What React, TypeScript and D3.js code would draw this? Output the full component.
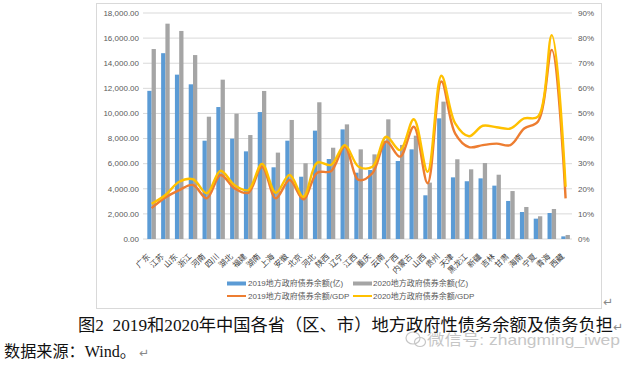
import React from 'react';
import * as d3 from 'd3';

const provinces = ['广东', '江苏', '山东', '浙江', '河南', '四川', '湖北', '福建', '湖南', '上海', '安徽', '北京', '河北', '陕西', '辽宁', '江西', '重庆', '云南', '广西', '内蒙古', '山西', '贵州', '天津', '黑龙江', '新疆', '吉林', '甘肃', '海南', '宁夏', '青海', '西藏'];

// 地方政府债券余额（亿元）
const debt2019 = [11800, 14800, 13090, 12320, 7830, 10510, 7990, 6980, 10110, 5710, 7830, 4960, 8630, 6370, 8730, 5280, 5500, 7830, 6210, 7140, 3480, 9610, 4910, 4600, 4830, 4250, 3030, 2150, 1620, 2070, 210];
const debt2020 = [15130, 17150, 16570, 14650, 9740, 12690, 9980, 8280, 11790, 6880, 9480, 6030, 10890, 7270, 9130, 7140, 6740, 9530, 7490, 8230, 4490, 10940, 6350, 5550, 6050, 5120, 3820, 2550, 1810, 2390, 320];

// 债券余额/GDP（%）
const ratio2019 = [12.3, 16.5, 19.5, 21.5, 16.2, 25.5, 20.2, 18.4, 28.8, 16.2, 23.5, 15.8, 26.4, 27, 36.8, 23.5, 26.2, 38.8, 32.8, 44.7, 22.2, 62.7, 42, 36.6, 37.4, 38, 37.4, 44, 46.8, 75.3, 16.2];
const ratio2020 = [14, 17.5, 22.8, 23.8, 18.2, 27.2, 21.5, 19.5, 29.9, 18.4, 25.5, 16.8, 30.4, 29.5, 37.4, 28.8, 28.8, 40.7, 35.4, 47.7, 26.8, 65, 46, 40.9, 45.1, 44.5, 44, 48, 48.7, 81.2, 20.8];

const leftTicks = [0, 2000, 4000, 6000, 8000, 10000, 12000, 14000, 16000, 18000];
const rightTicks = [0, 10, 20, 30, 40, 50, 60, 70, 80, 90];

const legendBars = ['2019地方政府债券余额(亿)', '2020地方政府债券余额(亿)'];
const legendLines = ['2019地方政府债券余额/GDP', '2020地方政府债券余额/GDP'];

const caption = '图2  2019和2020年中国各省（区、市）地方政府性债务余额及债务负担';
const source = '数据来源：Wind。';

const BLUE = '#5b9bd5';
const GRAY = '#a5a5a5';
const ORANGE = '#ed7d31';
const YELLOW = '#ffc000';
const FONT = '"Liberation Sans", "Noto Sans CJK SC", sans-serif';

export default function App() {
  const x = d3.scaleBand<string>().domain(provinces).range([144.7, 572.5]).paddingInner(0.38).paddingOuter(0.19);
  const sub = d3.scaleBand<string>().domain(['2019', '2020']).range([0, x.bandwidth()]);
  const y = d3.scaleLinear().domain([0, 18000]).range([239, 13]);
  const y2 = d3.scaleLinear().domain([0, 90]).range([239, 13]);
  const fmt = d3.format(',.2f');
  const cx = (i: number) => (x(provinces[i]) as number) + x.bandwidth() / 2;

  const line = d3.line<number>()
    .x((_, i) => cx(i))
    .y(d => y2(d))
    .curve(d3.curveCatmullRom.alpha(0.5));

  return (
    <div style={{ position: 'absolute', left: 0, top: 0, background: '#fff' }}>
      <svg width={640} height={367} style={{ display: 'block' }}>
        <rect x={0} y={0} width={640} height={367} fill="#fff" />
        <rect x={96.5} y={3.5} width={505} height={305} fill="#fff" stroke="#d9d9d9" />

        {/* gridlines + left axis */}
        {leftTicks.map(t => (
          <g key={'l' + t}>
            <line x1={143} x2={572} y1={y(t)} y2={y(t)} stroke="#d9d9d9" strokeWidth={1} />
            <text x={139} y={y(t)} dy="0.35em" textAnchor="end" fontSize={8} fill="#595959" fontFamily={FONT}>{fmt(t)}</text>
          </g>
        ))}
        {rightTicks.map(t => (
          <text key={'r' + t} x={578} y={y2(t)} dy="0.35em" fontSize={8} fill="#595959" fontFamily={FONT}>{t + '%'}</text>
        ))}

        {/* bars */}
        {provinces.map((p, i) => (
          <g key={p}>
            <rect x={(x(p) as number) + (sub('2019') as number)} y={y(debt2019[i])} width={sub.bandwidth()} height={239 - y(debt2019[i])} fill={BLUE} />
            <rect x={(x(p) as number) + (sub('2020') as number)} y={y(debt2020[i])} width={sub.bandwidth()} height={239 - y(debt2020[i])} fill={GRAY} />
          </g>
        ))}

        {/* ratio lines */}
        <path d={line(ratio2019) || ''} fill="none" stroke={ORANGE} strokeWidth={2.4} />
        <path d={line(ratio2020) || ''} fill="none" stroke={YELLOW} strokeWidth={2.4} />

        {/* category labels */}
        {provinces.map((p, i) => (
          <text key={'c' + p} transform={`translate(${cx(i) - 1},${257}) rotate(-45)`} textAnchor="end" fontSize={8} fill="#404040" fontFamily={FONT}>{p}</text>
        ))}

        {/* legend */}
        <rect x={227} y={281.5} width={19} height={4} fill={BLUE} />
        <text x={248} y={283.5} dy="0.35em" fontSize={8} fill="#595959" fontFamily={FONT}>{legendBars[0]}</text>
        <rect x={353} y={281.5} width={19} height={4} fill={GRAY} />
        <text x={373} y={283.5} dy="0.35em" fontSize={8} fill="#595959" fontFamily={FONT}>{legendBars[1]}</text>
        <line x1={227} x2={246} y1={296} y2={296} stroke={ORANGE} strokeWidth={2} />
        <text x={248} y={296} dy="0.35em" fontSize={8} fill="#595959" fontFamily={FONT}>{legendLines[0]}</text>
        <line x1={353} x2={372} y1={296} y2={296} stroke={YELLOW} strokeWidth={2} />
        <text x={373} y={296} dy="0.35em" fontSize={8} fill="#595959" fontFamily={FONT}>{legendLines[1]}</text>

        {/* document text */}
        <text x={603} y={306} fontSize={12} fill="#888" fontFamily="DejaVu Sans">↵</text>
        <text x={78} y={331} fontSize={16.5} textLength={535} lengthAdjust="spacingAndGlyphs" fill="#111" style={{ whiteSpace: 'pre' }} fontFamily='"Liberation Serif", "Noto Sans CJK SC", serif'>{caption}</text>
        <text x={613} y={331} fontSize={12} fill="#888" fontFamily="DejaVu Sans">↵</text>
        <text x={4} y={357} fontSize={16} textLength={132} lengthAdjust="spacingAndGlyphs" fill="#111" fontFamily='"Liberation Serif", "Noto Sans CJK SC", serif'>{source}</text>
        <text x={139} y={357} fontSize={12} fill="#888" fontFamily="DejaVu Sans">↵</text>

        {/* watermark */}
        <g opacity={0.55}>
          <ellipse cx={413} cy={338} rx={7} ry={6} fill="none" stroke="#999" strokeWidth={1.2} />
          <ellipse cx={420} cy={342} rx={5.5} ry={4.5} fill="none" stroke="#999" strokeWidth={1.2} />
          <text x={427} y={345} fontSize={15} textLength={193} lengthAdjust="spacingAndGlyphs" fill="#999" fontFamily={FONT}>微信号: zhangming_iwep</text>
        </g>
      </svg>
    </div>
  );
}
